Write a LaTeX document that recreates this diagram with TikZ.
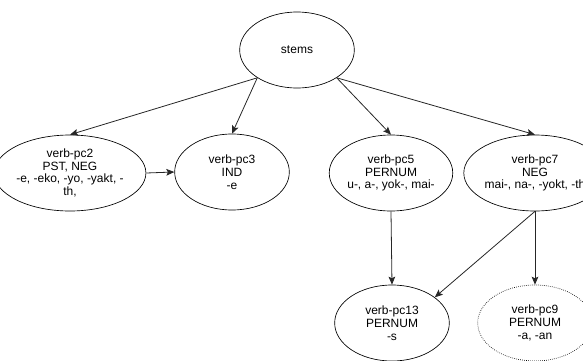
\documentclass[tikz,border=0pt]{standalone}
\usepackage{fontspec}
\setmainfont{Liberation Sans}
\usetikzlibrary{shapes.geometric, arrows.meta}

\begin{document}
\begin{tikzpicture}[
    x=0.75pt, y=-0.75pt,
    morph/.style={ellipse, draw, line width=0.5pt, minimum width=86pt, minimum height=57pt,
      inner sep=0pt, align=center, font=\fontsize{9}{9.6}\selectfont},
    arrow/.style={line width=0.6pt, draw=black!85, -{Stealth[length=6pt, width=5pt, inset=1.2pt]}}
]
\useasboundingbox (0,0) rectangle (583,361);
\clip (0,0) rectangle (583,361);

% Nodes
\node[morph] (stems) at (297,50) {stems};
\node[morph] (pc2) at (70,173) {verb-pc2\\PST, NEG\\-e, -eko, -yo, -yakt, -\\th,};
\node[morph] (pc3) at (232,172) {verb-pc3\\IND\\-e};
\node[morph] (pc5) at (391,173) {verb-pc5\\PERNUM\\u-, a-, yok-, mai-};
\node[morph] (pc7) at (535,173) {verb-pc7\\NEG\\mai-, na-, -yokt, -th};
\node[morph] (pc13) at (392,323) {verb-pc13\\PERNUM\\-s};
\node[morph, densely dotted] (pc9) at (535,323) {verb-pc9\\PERNUM\\-a, -an};

% Arrows
\draw[arrow] (stems.215) -- (pc2.north);
\draw[arrow] (stems.215) -- (pc3.north);
\draw[arrow] (stems.325) -- (pc5.north);
\draw[arrow] (stems.325) -- (pc7.north);
\draw[arrow] (pc2.east) -- (pc3.west);
\draw[arrow] (pc5.south) -- (pc13.north);
\draw[arrow] (pc7.south) -- (pc13.31);
\draw[arrow] (pc7.south) -- (pc9.north);

\end{tikzpicture}
\end{document}
